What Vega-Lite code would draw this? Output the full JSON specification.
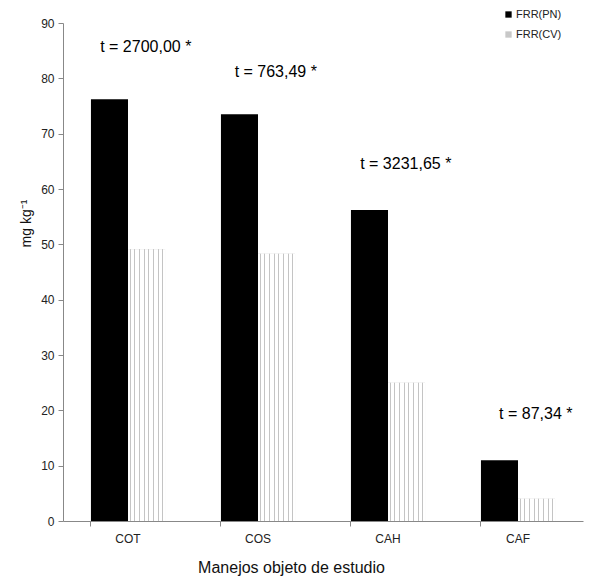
{
  "$schema": "https://vega.github.io/schema/vega-lite/v6.json",
  "width": 520,
  "height": 498,
  "autosize": {"type": "none"},
  "padding": {"left": 63, "top": 23, "right": 31, "bottom": 58},
  "background": "white",
  "config": {
    "view": {"stroke": null},
    "font": "Liberation Sans",
    "axis": {
      "domainColor": "#888888",
      "tickColor": "#888888",
      "labelColor": "#222222",
      "labelFont": "Liberation Sans",
      "labelFontSize": 12,
      "titleFont": "Liberation Sans",
      "titleFontWeight": "normal",
      "titleColor": "#111111",
      "grid": false
    }
  },
  "layer": [
    {
      "data": {"values": [
        {"manejo": "COT", "serie": "FRR(PN)", "valor": 76.2},
        {"manejo": "COT", "serie": "FRR(CV)", "valor": 49.1},
        {"manejo": "COS", "serie": "FRR(PN)", "valor": 73.5},
        {"manejo": "COS", "serie": "FRR(CV)", "valor": 48.3},
        {"manejo": "CAH", "serie": "FRR(PN)", "valor": 56.2},
        {"manejo": "CAH", "serie": "FRR(CV)", "valor": 25.0},
        {"manejo": "CAF", "serie": "FRR(PN)", "valor": 11.0},
        {"manejo": "CAF", "serie": "FRR(CV)", "valor": 4.0}
      ]},
      "layer": [
        {
          "mark": {"type": "bar"},
          "encoding": {
            "x": {
              "field": "manejo", "type": "nominal",
              "sort": ["COT", "COS", "CAH", "CAF"],
              "scale": {"paddingInner": 0.43, "paddingOuter": 0.215},
              "axis": {
                "title": "Manejos objeto de estudio",
                "titleFontSize": 16,
                "titleX": 228,
                "titleY": 51,
                "titleBaseline": "alphabetic",
                "labelAngle": 0,
                "bandPosition": 0,
                "tickSize": 5,
                "labelPadding": 7
              }
            },
            "xOffset": {
              "field": "serie", "type": "nominal",
              "sort": ["FRR(PN)", "FRR(CV)"],
              "scale": {"domain": ["FRR(PN)", "FRR(CV)"], "paddingInner": 0, "paddingOuter": 0}
            },
            "y": {
              "field": "valor", "type": "quantitative",
              "scale": {"domain": [0, 90], "nice": false},
              "axis": {
                "title": "mg kg⁻¹",
                "titleFontSize": 14,
                "titleX": -33,
                "titleY": 200,
                "titleBaseline": "alphabetic",
                "values": [0, 10, 20, 30, 40, 50, 60, 70, 80, 90],
                "tickSize": 5,
                "labelPadding": 4
              }
            },
            "color": {
              "field": "serie", "type": "nominal",
              "scale": {"domain": ["FRR(PN)", "FRR(CV)"], "range": ["#000000", "#c8c8c8"]},
              "legend": {
                "title": null,
                "orient": "none",
                "legendX": 440,
                "legendY": -14,
                "labelFont": "Liberation Sans",
                "labelFontSize": 11,
                "labelColor": "#222222",
                "symbolSize": 40,
                "rowPadding": 8,
                "labelOffset": 2,
                "symbolStrokeWidth": 0,
                "symbolType": "square"
              }
            }
          }
        },
        {
          "transform": [{"filter": "datum.serie === 'FRR(CV)'"}],
          "mark": {
            "type": "bar",
            "fill": {
              "gradient": "linear", "x1": 0, "y1": 0, "x2": 1, "y2": 0,
              "stops": [
                {"offset": 0, "color": "#ffffff"},
                {"offset": 0.048, "color": "#ffffff"},
                {"offset": 0.048, "color": "#c4c4c4"},
                {"offset": 0.076, "color": "#c4c4c4"},
                {"offset": 0.076, "color": "#ffffff"},
                {"offset": 0.173, "color": "#ffffff"},
                {"offset": 0.173, "color": "#c4c4c4"},
                {"offset": 0.201, "color": "#c4c4c4"},
                {"offset": 0.201, "color": "#ffffff"},
                {"offset": 0.298, "color": "#ffffff"},
                {"offset": 0.298, "color": "#c4c4c4"},
                {"offset": 0.326, "color": "#c4c4c4"},
                {"offset": 0.326, "color": "#ffffff"},
                {"offset": 0.423, "color": "#ffffff"},
                {"offset": 0.423, "color": "#c4c4c4"},
                {"offset": 0.451, "color": "#c4c4c4"},
                {"offset": 0.451, "color": "#ffffff"},
                {"offset": 0.548, "color": "#ffffff"},
                {"offset": 0.548, "color": "#c4c4c4"},
                {"offset": 0.576, "color": "#c4c4c4"},
                {"offset": 0.576, "color": "#ffffff"},
                {"offset": 0.673, "color": "#ffffff"},
                {"offset": 0.673, "color": "#c4c4c4"},
                {"offset": 0.701, "color": "#c4c4c4"},
                {"offset": 0.701, "color": "#ffffff"},
                {"offset": 0.798, "color": "#ffffff"},
                {"offset": 0.798, "color": "#c4c4c4"},
                {"offset": 0.826, "color": "#c4c4c4"},
                {"offset": 0.826, "color": "#ffffff"},
                {"offset": 0.923, "color": "#ffffff"},
                {"offset": 0.923, "color": "#c4c4c4"},
                {"offset": 0.951, "color": "#c4c4c4"},
                {"offset": 0.951, "color": "#ffffff"},
                {"offset": 1, "color": "#ffffff"}
              ]
            }
          },
          "encoding": {
            "x": {"field": "manejo", "type": "nominal", "sort": ["COT", "COS", "CAH", "CAF"]},
            "xOffset": {"field": "serie", "type": "nominal", "sort": ["FRR(PN)", "FRR(CV)"]},
            "y": {"field": "valor", "type": "quantitative"}
          }
        }
      ]
    },
    {
      "data": {"values": [
        {"manejo": "COT", "texto": "t = 2700,00 *", "pos": 85.7},
        {"manejo": "COS", "texto": "t = 763,49 *", "pos": 81.2},
        {"manejo": "CAH", "texto": "t = 3231,65 *", "pos": 64.5},
        {"manejo": "CAF", "texto": "t = 87,34 *", "pos": 19.3}
      ]},
      "mark": {"type": "text", "font": "Liberation Sans", "fontSize": 16, "color": "#000000", "baseline": "middle", "align": "center"},
      "encoding": {
        "x": {"field": "manejo", "type": "nominal", "sort": ["COT", "COS", "CAH", "CAF"], "bandPosition": 0.74},
        "y": {"field": "pos", "type": "quantitative"},
        "text": {"field": "texto"}
      }
    }
  ]
}
